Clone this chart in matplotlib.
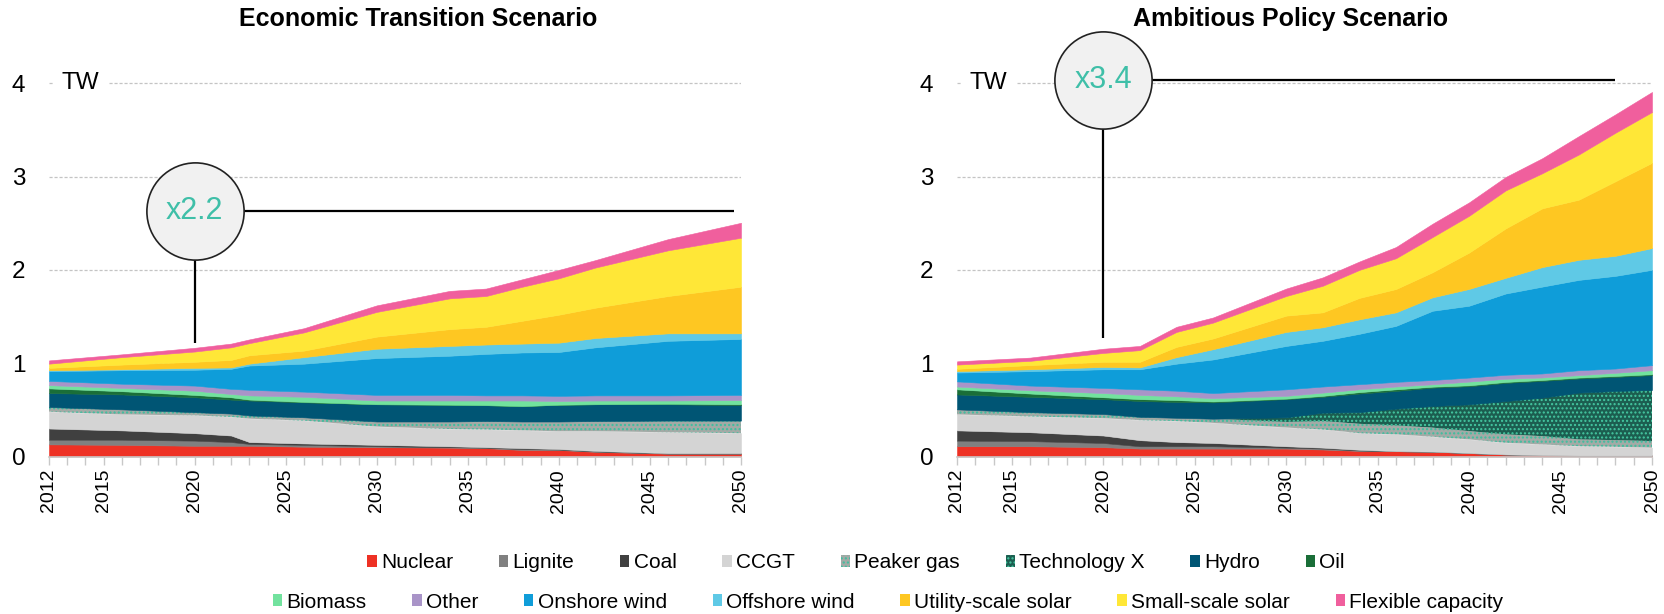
import matplotlib
matplotlib.use("Agg")
import matplotlib.pyplot as plt
from matplotlib.patches import Patch
import numpy as np

plt.rcParams["font.family"] = ["Liberation Sans", "DejaVu Sans"]
plt.rcParams["hatch.linewidth"] = 1.0

SERIES = ["Nuclear", "Lignite", "Coal", "CCGT", "Peaker gas", "Technology X", "Hydro", "Oil",
          "Biomass", "Other", "Onshore wind", "Offshore wind", "Utility-scale solar",
          "Small-scale solar", "Flexible capacity"]
COLORS = ["#ee3124", "#808080", "#404040", "#d4d4d4", "#a3aaa6", "#1c5e50", "#005574", "#1a6e38",
          "#72e29e", "#a994c8", "#0f9dd9", "#5fc9e6", "#fec722", "#ffe737", "#f05f9d"]
HATCH = {"Peaker gas": "#3dbf9f", "Technology X": "#45c9a2"}

# --- Economic Transition Scenario (TW, layer thickness) ---
et_years = [2012, 2016, 2020, 2022, 2023, 2026, 2030, 2034, 2036, 2038, 2040, 2042, 2046, 2050]
et_nuclear = [.13, .125, .115, .115, .115, .105, .10, .095, .09, .07, .07, .05, .03, .03]
et_lignite = [.05, .055, .055, .04, .02, .02, .01, .005, .005, .01, .005, .005, .003, .003]
et_coal = [.12, .10, .08, .07, .02, .015, .015, .01, .005, .01, .005, .005, .002, .002]
et_ccgt = [.18, .17, .19, .20, .25, .245, .195, .185, .19, .19, .19, .21, .225, .215]
et_peaker = [.05, .055, .035, .035, .035, .035, .055, .08, .09, .095, .105, .11, .125, .135]
et_techx = [0, 0, 0, 0, 0, 0, 0, 0, 0, 0, 0, 0, 0, 0]
et_hydro = [.15, .16, .16, .15, .16, .16, .185, .18, .17, .165, .18, .18, .175, .165]
et_oil = [.05, .035, .025, .025, .01, .005, 0, 0, 0, 0, 0, 0, .005, .01]
et_biomass = [.035, .035, .045, .035, .045, .055, .04, .045, .05, .06, .04, .04, .035, .045]
et_other = [.045, .045, .055, .055, .06, .055, .06, .06, .055, .055, .055, .055, .055, .055]
et_onshore = [.105, .145, .17, .215, .26, .30, .395, .42, .445, .46, .47, .515, .585, .60]
et_offshore = [.01, .01, .02, .015, .02, .07, .10, .105, .10, .095, .10, .10, .08, .06]
et_utility = [.025, .05, .065, .08, .09, .07, .13, .18, .19, .245, .30, .325, .40, .50]
et_small = [.045, .08, .11, .135, .13, .195, .265, .33, .33, .365, .39, .43, .49, .525]
et_flex = [.035, .03, .04, .04, .04, .045, .07, .08, .08, .08, .09, .08, .12, .16]

# --- Ambitious Policy Scenario (TW, layer thickness) ---
ap_years = [2012, 2016, 2020, 2022, 2024, 2026, 2030, 2032, 2034, 2036, 2038, 2040, 2042, 2044, 2046, 2048, 2050]
ap_nuclear = [.11, .11, .10, .085, .085, .085, .085, .075, .06, .057, .052, .037, .022, .014, .011, .011, .011]
ap_lignite = [.06, .055, .045, .025, .025, .025, .01, .01, .005, 0, 0, 0, 0, 0, 0, 0, 0]
ap_coal = [.11, .095, .08, .065, .045, .035, .015, .01, .007, 0, 0, 0, 0, 0, 0, 0, 0]
ap_ccgt = [.17, .17, .185, .215, .225, .215, .20, .195, .178, .18, .16, .146, .125, .115, .10, .093, .083]
ap_peaker = [.055, .045, .045, .035, .035, .045, .06, .09, .10, .096, .097, .089, .09, .089, .072, .071, .071]
ap_techx = [0, 0, 0, 0, 0, 0, .05, .09, .125, .18, .232, .287, .357, .413, .502, .527, .548]
ap_hydro = [.16, .165, .16, .17, .17, .175, .195, .17, .20, .19, .197, .194, .195, .179, .151, .151, .159]
ap_oil = [.055, .035, .02, .02, .02, .01, .005, .01, .015, .017, .01, .01, .01, .01, .01, .01, .01]
ap_biomass = [.03, .035, .045, .045, .04, .035, .03, .035, .03, .03, .026, .04, .034, .027, .026, .034, .043]
ap_other = [.055, .05, .055, .06, .06, .055, .07, .065, .055, .05, .046, .043, .043, .043, .053, .046, .054]
ap_onshore = [.095, .155, .20, .215, .29, .36, .465, .49, .54, .60, .742, .77, .871, .931, .968, .993, 1.022]
ap_offshore = [.015, .02, .025, .02, .07, .11, .15, .145, .155, .145, .144, .18, .168, .209, .215, .215, .233]
ap_utility = [.025, .045, .055, .06, .11, .115, .175, .16, .23, .25, .269, .39, .53, .63, .645, .799, .914]
ap_small = [.045, .045, .095, .125, .16, .17, .21, .285, .30, .33, .377, .394, .407, .376, .484, .52, .544]
ap_flex = [.035, .035, .045, .045, .055, .055, .08, .09, .09, .12, .143, .144, .144, .161, .197, .197, .215]

et_layers = [et_nuclear, et_lignite, et_coal, et_ccgt, et_peaker, et_techx, et_hydro, et_oil,
             et_biomass, et_other, et_onshore, et_offshore, et_utility, et_small, et_flex]
ap_layers = [ap_nuclear, ap_lignite, ap_coal, ap_ccgt, ap_peaker, ap_techx, ap_hydro, ap_oil,
             ap_biomass, ap_other, ap_onshore, ap_offshore, ap_utility, ap_small, ap_flex]

# callout: (year, level, line bottom, line end year, label)
et_callout = (2020, 2.63, 1.22, 2049.6, "x2.2")
ap_callout = (2020, 4.04, 1.27, 2048, "x3.4")

label_years = [2012, 2015, 2020, 2025, 2030, 2035, 2040, 2045, 2050]
y_ticks = [0, 1, 2, 3, 4]

W, H = 1664, 614
fig = plt.figure(figsize=(W / 100, H / 100), dpi=100)
y0_px, unit_px, ymax = 456.5, 93.3, 4.6
ax_bottom = (H - y0_px) / H
ax_height = ymax * unit_px / H
ax_left = fig.add_axes([49 / W, ax_bottom, 692 / W, ax_height])
ax_right = fig.add_axes([957 / W, ax_bottom, 695 / W, ax_height])


def draw_panel(ax, years, layers, callout):
    years = np.array(years)
    base = np.zeros(len(years))
    for name, color, vals in zip(SERIES, COLORS, layers):
        top = base + np.array(vals)
        if name in HATCH:
            ax.fill_between(years, base, top, facecolor=color, edgecolor=HATCH[name],
                            hatch="....", linewidth=0, zorder=2)
        else:
            ax.fill_between(years, base, top, facecolor=color, edgecolor=color,
                            linewidth=0.4, zorder=2)
        base = top

    ax.set_xlim(2012, 2050)
    ax.set_ylim(0, ymax)
    ax.set_yticks(y_ticks)
    ax.tick_params(axis="y", length=0, pad=17, labelsize=17.5)
    all_years = list(range(2012, 2051))
    ax.set_xticks(all_years)
    ax.set_xticklabels([str(y) if y in label_years else "" for y in all_years])
    ax.tick_params(axis="x", length=6, width=1, color="#c8c8c8", labelsize=14,
                   labelrotation=90, pad=3)
    for side in ["top", "right", "left"]:
        ax.spines[side].set_visible(False)
    ax.spines["bottom"].set_color("#c8c8c8")
    ax.spines["bottom"].set_linewidth(1.2)
    ax.spines["bottom"].set_zorder(3)
    for y in y_ticks[1:]:
        ax.axhline(y, color="#c4c4c4", lw=0.9, ls=(0, (2.5, 1.5)), zorder=0)

    ax.annotate("TW", xy=(0, 4), xycoords=("axes fraction", "data"), xytext=(9, 0),
                textcoords="offset points", ha="left", va="center", fontsize=17.5, zorder=4,
                bbox=dict(boxstyle="square,pad=0.35", fc="white", ec="none"))

    cx, cy, bottom, end_x, label = callout
    ax.plot([cx, cx], [bottom, cy], color="black", lw=1.6, zorder=4, solid_capstyle="butt")
    ax.plot([cx, end_x], [cy, cy], color="black", lw=1.6, zorder=4, solid_capstyle="butt")
    ax.plot([cx], [cy], "o", ms=70, mfc="#f1f1f1", mec="#222222", mew=1.2, zorder=5, clip_on=False)
    ax.text(cx, cy, label, ha="center", va="center", color="#3fbfa8", fontsize=22, zorder=6)


draw_panel(ax_left, et_years, et_layers, et_callout)
draw_panel(ax_right, ap_years, ap_layers, ap_callout)

fig.text(418 / W, 1 - 19 / H, "Economic Transition Scenario", ha="center", va="center",
         fontsize=18, fontweight="bold")
fig.text(1291 / W, 1 - 19 / H, "Ambitious Policy Scenario", ha="center", va="center",
         fontsize=18, fontweight="bold")

handles = []
for name, color in zip(SERIES, COLORS):
    if name in HATCH:
        handles.append(Patch(facecolor=color, edgecolor=HATCH[name], hatch="....", lw=0, label=name))
    else:
        handles.append(Patch(facecolor=color, edgecolor="none", label=name))

leg_kw = dict(loc="center", frameon=False, fontsize=15, handlelength=0.45, handleheight=0.5,
              handletextpad=0.2, columnspacing=2.2, borderpad=0, borderaxespad=0)
fig.legend(handles=handles[:8], ncol=8, bbox_to_anchor=(856 / W, 1 - 563 / H), **leg_kw)
fig.legend(handles=handles[8:], ncol=7, bbox_to_anchor=(888 / W, 1 - 602 / H), **leg_kw)

fig.savefig("out.png", dpi=100)
